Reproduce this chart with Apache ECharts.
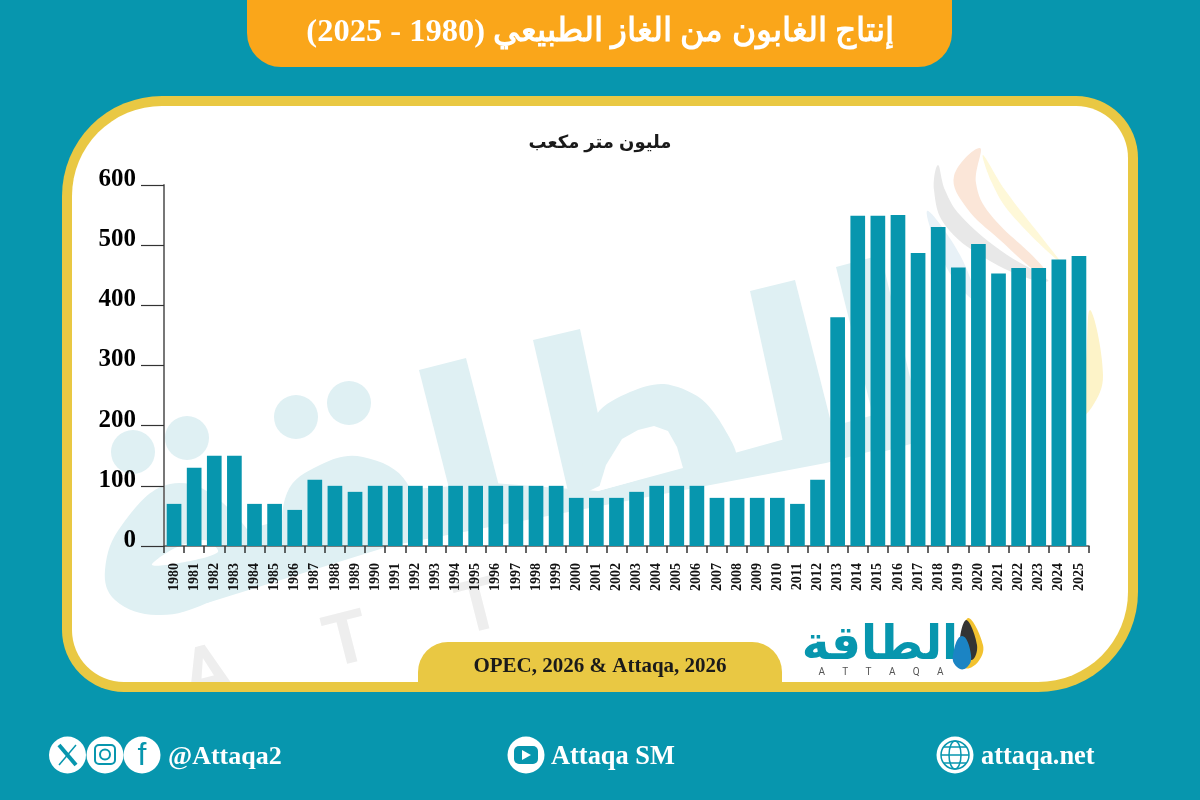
<!DOCTYPE html>
<html>
<head>
<meta charset="utf-8">
<style>
  html, body { margin: 0; padding: 0; background: #0796ae; }
  #main { width: 1200px; height: 800px; }
</style>
<script src="https://cdn.jsdelivr.net/npm/echarts@6/dist/echarts.min.js"></script>
</head>
<body>
<div id="main"></div>
<script>
// data
const years = ['1980','1981','1982','1983','1984','1985','1986','1987','1988','1989',
  '1990','1991','1992','1993','1994','1995','1996','1997','1998','1999',
  '2000','2001','2002','2003','2004','2005','2006','2007','2008','2009',
  '2010','2011','2012','2013','2014','2015','2016','2017','2018','2019',
  '2020','2021','2022','2023','2024','2025'];
const production = [70,130,150,150,70,70,60,110,100,90,
  100,100,100,100,100,100,100,100,100,100,
  80,80,80,90,100,100,100,80,80,80,
  80,70,110,380,549,549,550,487,530,463,
  502,453,462,462,476,482];
const yTicks = [0,100,200,300,400,500,600];

const titleText = '\u202Bإنتاج الغابون من الغاز الطبيعي (1980 - 2025)\u202C';
const unitText = 'مليون متر مكعب';
const sourceText = 'OPEC, 2026 & Attaqa, 2026';
const logoText = 'الطاقة';
const logoLatin = 'A       T       T       A       Q       A';

const TEAL = '#0796ae';
const GOLD = '#e9c843';
const ORANGE = '#faa61a';
const WASH = '#dff0f3';
const SERIF = '"Liberation Serif", "DejaVu Serif", serif';
const ARABIC = '"Liberation Sans", "DejaVu Sans", sans-serif';

function label(text, x, y, size, color, align, font) {
  return {
    type: 'text', z: 5,
    style: {
      text: text, x: x, y: y, fill: color, align: align || 'left', verticalAlign: 'middle',
      fontFamily: font || SERIF, fontWeight: 'bold', fontSize: size
    }
  };
}

function dot(x, y, r) {
  return { type: 'circle', z: 5, shape: { cx: x, cy: y, r: r }, style: { fill: '#fff' } };
}

// watermark pieces, all behind the bars
function wash(points, smooth, color, z) {
  return { type: 'polygon', z: z || -9, shape: { points: points, smooth: smooth || 0 }, style: { fill: color || WASH } };
}

function washDot(x, y) {
  return { type: 'circle', z: -9, shape: { cx: x, cy: y, r: 22 }, style: { fill: WASH } };
}

function mark(text, x, y, size) {
  return {
    type: 'text', z: -9, x: x, y: y, rotation: 0.25,
    style: { text: text, fill: '#eeeeee', align: 'center', verticalAlign: 'middle',
      fontFamily: 'Roboto', fontWeight: 'bold', fontSize: size }
  };
}

const graphics = [
  // frame
  { type: 'rect', z: -10, shape: { x: 62, y: 96, width: 1076, height: 596, r: [100, 62, 100, 62] }, style: { fill: GOLD } },
  { type: 'rect', z: -10, shape: { x: 72, y: 106, width: 1056, height: 576, r: [90, 52, 90, 52] }, style: { fill: '#fff' } },
  // header
  { type: 'rect', z: 1, shape: { x: 247, y: -40, width: 705, height: 107, r: 34 }, style: { fill: ORANGE } },
  label(titleText, 600, 33, 32.5, '#fff', 'center'),
  label(unitText, 600, 143, 18, '#1a1a1a', 'center', ARABIC),
  // flame of the watermark
  wash([[927,211],[948,270],[975,300],[960,255]], 0.4, '#e8f1f7'),
  wash([[938,165],[934,190],[945,225],[985,258],[1036,281],[1048,280],[1000,250],[960,215],[945,190]], 0.4, '#e8e8e8'),
  wash([[980,148],[954,176],[966,207],[1000,240],[1040,274],[1043,267],[990,214],[976,183]], 0.4, '#fbe6d8'),
  wash([[983,155],[992,183],[1011,214],[1061,263],[1043,239],[1005,190]], 0.4, '#fef8d8'),
  wash([[1090,310],[1103,375],[1092,407],[1075,420],[1085,370]], 0.4, '#fdf3c8'),
  // letters of the watermark
  washDot(133, 452), washDot(187, 438), washDot(296, 417), washDot(349, 403),
  wash([[170,484],[223,503],[262,570],[207,603],[157,615],[115,600],[105,570],[122,525]], 0.4),
  wash([[152,565],[175,548],[205,540],[218,552],[185,562]], 0.3, '#fff', -8),
  wash([[363,457],[407,483],[400,520],[340,550],[290,540],[287,493],[320,465]], 0.4),
  wash([[207,603],[390,546],[826,463],[895,445],[885,412],[785,439],[731,454],[598,491],[493,483],[400,490],[205,540]]),
  wash([[419,370],[466,358],[500,490],[452,500]]),
  wash([[533,340],[580,329],[612,480],[570,500]]),
  wash([[585,470],[597,414],[630,392],[664,384],[700,398],[724,428],[735,460],[660,480]], 0.3),
  wash([[598,491],[606,465],[622,439],[638,430],[654,426],[668,431],[677,447],[683,468]], 0, '#fff', -8),
  wash([[750,291],[795,280],[838,450],[787,460]]),
  wash([[836,267],[881,255],[925,440],[882,452]]),
  mark('A', 208, 678, 72),
  mark('T', 348, 645, 72),
  mark('T', 480, 612, 72),
  // keeps the big A off the gold rim and the teal below it
  { type: 'rect', z: -7, shape: { x: 130, y: 682, width: 300, height: 10 }, style: { fill: GOLD } },
  { type: 'rect', z: -7, shape: { x: 130, y: 692, width: 300, height: 30 }, style: { fill: TEAL } },
  // source tab
  { type: 'rect', z: 1, shape: { x: 418, y: 642, width: 364, height: 50, r: [30, 30, 0, 0] }, style: { fill: GOLD } },
  label(sourceText, 600, 667, 21, '#1a1a1a', 'center'),
  // logo
  label(logoText, 880, 646, 47, TEAL, 'center', ARABIC),
  { type: 'text', z: 5, style: { text: logoLatin, x: 881, y: 672, fill: '#555', align: 'center', verticalAlign: 'middle', fontFamily: 'Roboto', fontSize: 10 } },
  { type: 'polygon', z: 5, shape: { points: [[968,618],[983,645],[978,662],[965,668],[962,650]], smooth: 0.4 }, style: { fill: '#f2c230' } },
  { type: 'polygon', z: 5, shape: { points: [[966,620],[977,645],[972,660],[960,650]], smooth: 0.4 }, style: { fill: '#333' } },
  { type: 'polygon', z: 6, shape: { points: [[962,636],[971,655],[966,668],[957,667],[953,655]], smooth: 0.5 }, style: { fill: '#1b84c4' } },
  // footer: social icons
  dot(67.5, 755, 18.5),
  { type: 'line', z: 6, shape: { x1: 59, y1: 745, x2: 76, y2: 765 }, style: { stroke: TEAL, lineWidth: 4 } },
  { type: 'line', z: 6, shape: { x1: 76, y1: 745, x2: 59, y2: 765 }, style: { stroke: TEAL, lineWidth: 1.5 } },
  dot(105, 755, 18.5),
  { type: 'rect', z: 6, shape: { x: 95, y: 745, width: 20, height: 19, r: 4 }, style: { fill: 'none', stroke: TEAL, lineWidth: 2 } },
  { type: 'circle', z: 6, shape: { cx: 105, cy: 754.5, r: 5 }, style: { fill: 'none', stroke: TEAL, lineWidth: 2 } },
  dot(142, 755, 18.5),
  {
    type: 'text', z: 6,
    style: { text: 'f', x: 142, y: 756, fill: TEAL, align: 'center', verticalAlign: 'middle', fontFamily: ARABIC, fontSize: 32 }
  },
  label('@Attaqa2', 168, 757, 26, '#fff'),
  dot(526, 755, 18.5),
  { type: 'rect', z: 6, shape: { x: 514, y: 746, width: 24, height: 18, r: 5 }, style: { fill: TEAL } },
  { type: 'polygon', z: 7, shape: { points: [[522, 750], [522, 760], [531, 755]] }, style: { fill: '#fff' } },
  label('Attaqa SM', 551, 757, 26.4, '#fff'),
  dot(955, 755, 18.5),
  { type: 'circle', z: 6, shape: { cx: 955, cy: 755, r: 14 }, style: { fill: 'none', stroke: TEAL, lineWidth: 1.5 } },
  { type: 'ellipse', z: 6, shape: { cx: 955, cy: 755, rx: 6, ry: 14 }, style: { fill: 'none', stroke: TEAL, lineWidth: 1.5 } },
  { type: 'line', z: 6, shape: { x1: 941, y1: 755, x2: 969, y2: 755 }, style: { stroke: TEAL, lineWidth: 1.5 } },
  { type: 'line', z: 6, shape: { x1: 944, y1: 747, x2: 966, y2: 747 }, style: { stroke: TEAL, lineWidth: 1.5 } },
  { type: 'line', z: 6, shape: { x1: 944, y1: 763, x2: 966, y2: 763 }, style: { stroke: TEAL, lineWidth: 1.5 } },
  label('attaqa.net', 981, 757, 26.4, '#fff')
];

const chart = echarts.init(document.getElementById('main'), null, { width: 1200, height: 800 });
chart.setOption({
  animation: false,
  backgroundColor: TEAL,
  graphic: { elements: graphics },
  grid: { left: 164, right: 111, top: 185, bottom: 254 },
  xAxis: {
    type: 'category',
    data: years,
    axisLine: { lineStyle: { color: '#555', width: 1.5 } },
    axisTick: { show: true, length: 7, lineStyle: { color: '#333', width: 1.5 } },
    axisLabel: {
      interval: 0, rotate: 90, margin: 17,
      color: '#111', fontFamily: SERIF, fontWeight: 'bold', fontSize: 14
    }
  },
  yAxis: {
    type: 'value',
    min: yTicks[0],
    max: yTicks[yTicks.length - 1],
    interval: 100,
    splitLine: { show: false },
    axisLine: { show: true, lineStyle: { color: '#777', width: 2 } },
    axisTick: { show: true, length: 23, lineStyle: { color: '#333', width: 1.2 } },
    axisLabel: {
      margin: 28, verticalAlign: 'bottom', lineHeight: 11,
      color: '#000', fontFamily: SERIF, fontWeight: 'bold', fontSize: 25
    }
  },
  series: [{
    type: 'bar',
    data: production,
    barCategoryGap: '27%',
    itemStyle: { color: TEAL }
  }]
});
</script>
</body>
</html>
